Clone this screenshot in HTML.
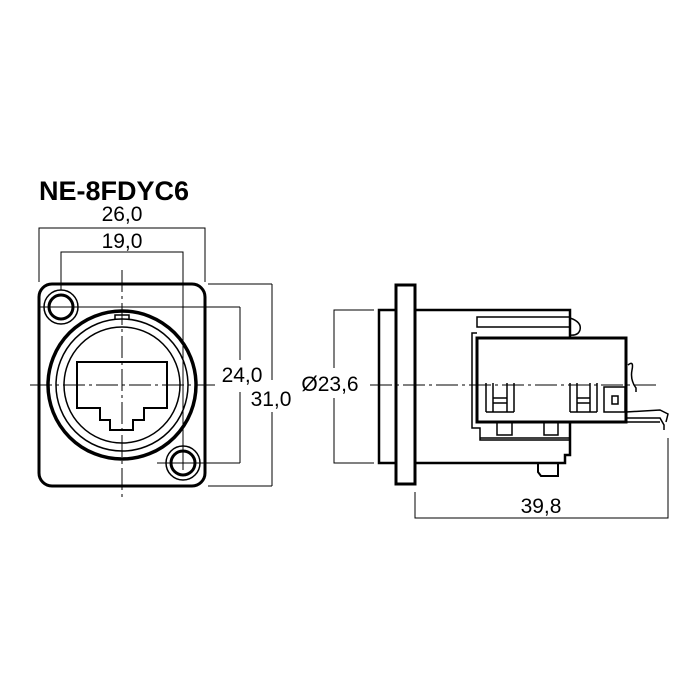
<!DOCTYPE html>
<html><head><style>
html,body{margin:0;padding:0;background:#fff;}
svg{display:block;}
text{font-family:"Liberation Sans",sans-serif;fill:#000;}
</style></head><body>
<svg width="700" height="700" viewBox="0 0 700 700" xmlns="http://www.w3.org/2000/svg">
<rect width="700" height="700" fill="#fff"/>
<text x="39" y="200" font-size="27" font-weight="bold">NE-8FDYC6</text>

<g fill="none" stroke="#000">
 <g stroke-width="1">
  <polyline points="39,282 39,228 205,228 205,282"/>
  <polyline points="61,290 61,252 183,252 183,470"/>
  <line x1="39" y1="307" x2="240" y2="307"/>
  <line x1="157" y1="463" x2="240" y2="463"/>
  <line x1="240" y1="307" x2="240" y2="360"/>
  <line x1="240" y1="392" x2="240" y2="463"/>
  <line x1="208" y1="284" x2="272" y2="284"/>
  <line x1="208" y1="486" x2="272" y2="486"/>
  <line x1="272" y1="284" x2="272" y2="380"/>
  <line x1="272" y1="412" x2="272" y2="486"/>
  <line x1="122" y1="270" x2="122" y2="500" stroke-dasharray="22,4,3,4"/>
  <line x1="30" y1="385" x2="215" y2="385" stroke-dasharray="22,4,3,4"/>
  <line x1="48" y1="307" x2="74" y2="307"/>
  <line x1="170" y1="463" x2="196" y2="463"/>
 </g>
 <rect x="39" y="284" width="166" height="202" rx="13" stroke-width="3"/>
 <circle cx="61" cy="307" r="17" stroke-width="1.5"/>
 <circle cx="61" cy="307" r="12" stroke-width="3"/>
 <circle cx="183" cy="463" r="17" stroke-width="1.5"/>
 <circle cx="183" cy="463" r="12" stroke-width="3"/>
 <circle cx="122" cy="385" r="74" stroke-width="3.5"/>
 <circle cx="122" cy="385" r="66" stroke-width="1.5"/>
 <circle cx="122" cy="385" r="58" stroke-width="1.5"/>
 <polyline points="115,319 115,315 129,315 129,319" stroke-width="1.5"/>
 <polygon points="77,362 167,362 167,408 144,408 144,420 133,420 133,430 110,430 110,420 100,420 100,408 77,408" stroke-width="2"/>
</g>
<text x="122" y="221" font-size="21" text-anchor="middle">26,0</text>
<text x="122" y="248" font-size="21" text-anchor="middle">19,0</text>
<text x="242" y="382" font-size="21" text-anchor="middle">24,0</text>
<text x="271" y="406" font-size="21" text-anchor="middle">31,0</text>

<g fill="none" stroke="#000">
 <g stroke-width="1">
  <polyline points="374,310 334,310 334,368"/>
  <polyline points="374,463 334,463 334,398"/>
  <line x1="370" y1="385" x2="660" y2="385" stroke-dasharray="22,4,3,4"/>
  <polyline points="415,492 415,518 668,518 668,438"/>
 </g>
 <rect x="396" y="285" width="19" height="199" stroke-width="3"/>
 <rect x="379" y="310" width="17" height="153" stroke-width="2.5"/>
 <polyline points="415,310 570,310 570,338" stroke-width="2.5"/>
 <polyline points="415,463 565,463 565,455 570,455 570,422" stroke-width="2.5"/>
 <polyline points="538,463 538,472 541,476 558,476 558,463" stroke-width="2"/>
 <rect x="477" y="317" width="93" height="10" stroke-width="1.5"/>
 <path d="M570,318 Q582,322 580,330 Q578,336 570,335" stroke-width="1.5"/>
 <polyline points="477,333 472,333 472,428 480,428 480,440 570,440" stroke-width="1.5"/>
 <polyline points="497,422 497,435 512,435 512,422" stroke-width="1.5"/>
 <polyline points="544,422 544,435 558,435 558,422" stroke-width="1.5"/>
 <line x1="480" y1="438" x2="570" y2="438" stroke-width="1.5"/>
 <rect x="477" y="338" width="149" height="84" stroke-width="3"/>
 <path d="M486,412 L486,383 M493,412 L493,383 M486,412 L514,412 M507,412 L507,383 M514,412 L514,383 M493,398 L507,398 M493,403 L507,403" stroke-width="1.5"/>
 <path d="M570,412 L570,383 M577,412 L577,383 M570,412 L597,412 M590,412 L590,383 M597,412 L597,383 M577,398 L590,398 M577,403 L590,403" stroke-width="1.5"/>
 <rect x="604" y="387" width="21" height="25" stroke-width="1.5"/>
 <rect x="612" y="396" width="6" height="8" stroke-width="1.5"/>
 <path d="M628,365 Q634,360 632,370 Q630,380 636,388 L636,392" stroke-width="1.5"/>
 <path d="M626,412 L660,410 L668,414 L666,422 M626,418 L660,418 L664,425 L664,430 M626,422 L660,422" stroke-width="1.5"/>
</g>
<rect x="300" y="372" width="58" height="22" fill="#fff"/>
<text x="330" y="391" font-size="21" text-anchor="middle">Ø23,6</text>
<text x="541" y="513" font-size="21" text-anchor="middle">39,8</text>
</svg>
</body></html>
